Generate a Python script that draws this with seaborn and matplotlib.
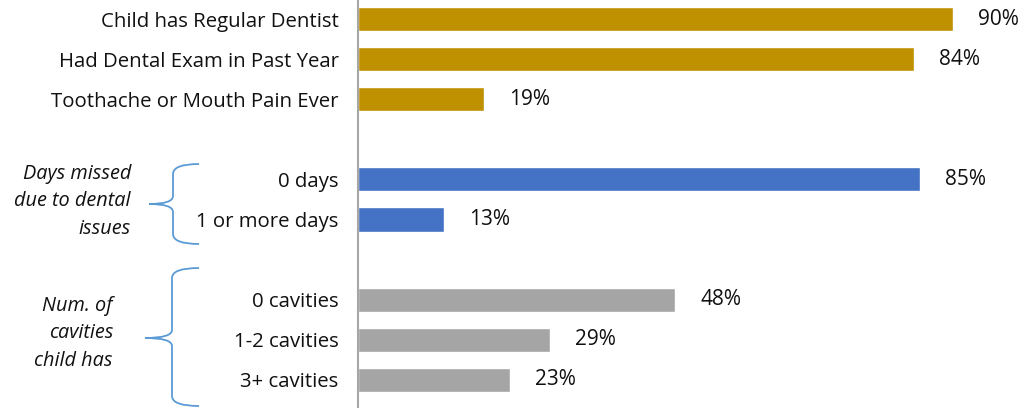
import matplotlib
matplotlib.use("Agg")
import matplotlib.pyplot as plt
import seaborn as sns
import pandas as pd
import numpy as np
from matplotlib.path import Path
from matplotlib.patches import PathPatch

labels = ["Child has Regular Dentist", "Had Dental Exam in Past Year", "Toothache or Mouth Pain Ever",
          " ", "0 days", "1 or more days", "  ", "0 cavities", "1-2 cavities", "3+ cavities"]
values = [90, 84, 19, np.nan, 85, 13, np.nan, 48, 29, 23]
groups = ["care", "care", "care", "care", "days", "days", "days", "cav", "cav", "cav"]
palette = {"care": "#BF9000", "days": "#4472C4", "cav": "#A5A5A5"}
group_titles = ["Days missed\ndue to dental\nissues", "Num. of\ncavities\nchild has"]

sns.set_theme(style="white")
plt.rcParams['font.family'] = ['Open Sans', 'DejaVu Sans']

df = pd.DataFrame({"label": labels, "value": values, "group": groups})

fig = plt.figure(figsize=(10.2, 4.08), dpi=100)
ax = fig.add_axes([358/1020, 0, 1 - 358/1020, 1])
sns.barplot(data=df, x="value", y="label", hue="group", palette=palette, order=labels,
            dodge=False, width=0.6, legend=False, ax=ax, orient="h", saturation=1)
ax.set_xlim(0, 100.1)
ax.set_ylim(9.7, -0.474)
ax.set_xlabel("")
ax.set_ylabel("")
ax.set_xticks([])
ax.tick_params(axis="y", length=0, pad=14, labelsize=14.7, labelcolor="#111111")
for s in ["top", "right", "bottom"]:
    ax.spines[s].set_visible(False)
ax.spines["left"].set_color("#A6A6A6")
ax.spines["left"].set_linewidth(1.5)

for c in ax.containers:
    labs = ["" if (np.isnan(b.get_width()) or b.get_width() == 0) else f"{b.get_width():.0f}%" for b in c]
    ax.bar_label(c, labels=labs, padding=18, fontsize=15, color="#111111")


def draw_brace(x_tip, x_stem, x_end, y_top, y_bot, y_tip):
    W, H = 1020, 408

    def p(x, y):
        return (x / W, 1 - y / H)
    verts = [p(x_end, y_top), p(x_stem, y_top), p(x_stem, y_top + 10),
             p(x_stem, y_tip - 8), p(x_stem, y_tip), p(x_tip, y_tip),
             p(x_tip, y_tip), p(x_stem, y_tip), p(x_stem, y_tip + 8),
             p(x_stem, y_bot - 10), p(x_stem, y_bot), p(x_end, y_bot)]
    codes = [Path.MOVETO, Path.CURVE3, Path.CURVE3,
             Path.LINETO, Path.CURVE3, Path.CURVE3,
             Path.MOVETO, Path.CURVE3, Path.CURVE3,
             Path.LINETO, Path.CURVE3, Path.CURVE3]
    patch = PathPatch(Path(verts, codes), transform=fig.transFigure, fill=False,
                      edgecolor="#5B9BD5", linewidth=1.3)
    fig.add_artist(patch)


draw_brace(149, 173, 199, 164, 244, 204)
draw_brace(145, 172, 199, 268, 406, 338)

fig.text(131 / 1020, 1 - 201 / 408, group_titles[0], ha="right", va="center", style="italic",
         fontsize=14.3, color="#111111", linespacing=1.5)
fig.text(113 / 1020, 1 - 333 / 408, group_titles[1], ha="right", va="center", style="italic",
         fontsize=14.3, color="#111111", linespacing=1.5)

fig.savefig("out.png", dpi=100)
